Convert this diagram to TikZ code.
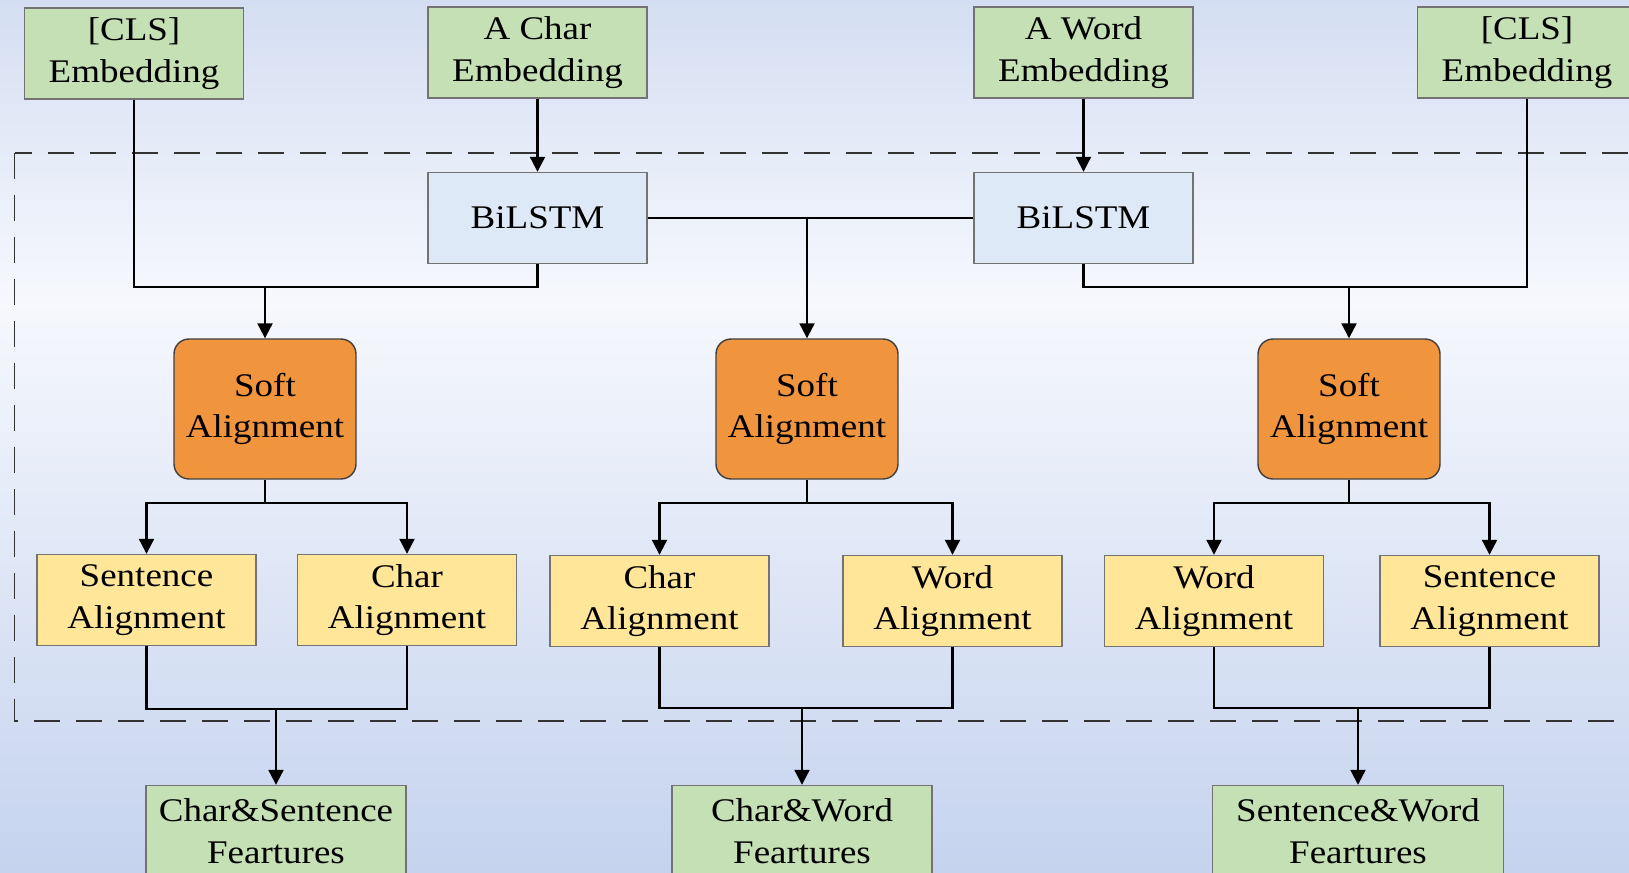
\documentclass[tikz,border=0pt]{standalone}
\usepackage{fontspec}
\setmainfont{Liberation Serif}[FakeStretch=1.12]
\usetikzlibrary{arrows.meta,positioning}
\definecolor{boxgreen}{RGB}{197,224,180}
\definecolor{boxblue}{RGB}{221,233,246}
\definecolor{boxorange}{RGB}{240,148,62}
\definecolor{boxyellow}{RGB}{255,230,153}
\definecolor{bgtop}{RGB}{212,222,242}
\definecolor{bgmid}{RGB}{246,248,253}
\definecolor{bgbot}{RGB}{197,211,238}
\pgfdeclareverticalshading{bgfade}{100bp}{color(0bp)=(bgbot); color(25bp)=(bgbot); color(57.8bp)=(bgmid); color(75bp)=(bgtop); color(100bp)=(bgtop)}
\tikzset{
  box/.style={draw=black!55, line width=0.8pt, minimum width=4.38cm, minimum height=1.82cm,
    inner sep=0pt, align=center, font=\fontsize{18.8}{23.6}\selectfont},
  embed/.style={box, fill=boxgreen},
  lstm/.style={box, fill=boxblue},
  soft/.style={box, fill=boxorange, draw=black!75, rounded corners=0.3cm,
    minimum width=3.64cm, minimum height=2.8cm},
  part/.style={box, fill=boxyellow},
  feat/.style={box, fill=boxgreen, minimum width=5.2cm},
  link/.style={line width=1.2pt},
  arr/.style={link, -{Triangle[length=8.5pt,width=8.5pt]}},
  dashline/.style={draw=black!80, line width=1.1pt, dash pattern=on 14.8pt off 9.1pt}
}
\begin{document}
\begin{tikzpicture}[x=0.02cm, y=-0.02cm]
\useasboundingbox (0,0) rectangle (1629,872);
\clip (0,0) rectangle (1629,872);
\shade[shading=bgfade] (0,0) rectangle (1629,872);
\draw[dashline] (14.5,153) rectangle (1660,721);

\node[embed] (clsL) at (134,53.5) {[CLS]\\Embedding};
\node[embed] (charEmb) at (537.5,52.5) {A Char\\Embedding};
\node[embed] (wordEmb) at (1083.5,52.5) {A Word\\Embedding};
\node[embed] (clsR) at (1527,52.5) {[CLS]\\Embedding};
\node[lstm] (lstmC) at (537.5,218) {BiLSTM};
\node[lstm] (lstmW) at (1083.5,218) {BiLSTM};
\node[soft] (softL) at (265,409) {Soft\\Alignment};
\node[soft] (softM) at (807,409) {Soft\\Alignment};
\node[soft] (softR) at (1349,409) {Soft\\Alignment};
\node[part] (sentL) at (146.5,600) {Sentence\\Alignment};
\node[part] (charL) at (407,600) {Char\\Alignment};
\node[part] (charM) at (659.5,601) {Char\\Alignment};
\node[part] (wordM) at (952.5,601) {Word\\Alignment};
\node[part] (wordR) at (1214,601) {Word\\Alignment};
\node[part] (sentR) at (1489.5,601) {Sentence\\Alignment};
\node[feat] (featCS) at (276,831) {Char\&Sentence\\Feartures};
\node[feat] (featCW) at (802,831) {Char\&Word\\Feartures};
\node[feat, minimum width=5.82cm] (featSW) at (1358,831) {Sentence\&Word\\Feartures};

\coordinate (mergeL) at (265,287);
\coordinate (mergeR) at (1349,287);
\draw[arr] (charEmb) -- (lstmC);
\draw[arr] (wordEmb) -- (lstmW);
\draw[link] (lstmC) -- (lstmW);
\draw[arr] (softM |- lstmC) -- (softM);
\draw[link] (clsL.south) |- (mergeL) -| (lstmC.south);
\draw[arr] (mergeL) -- (softL);
\draw[link] (lstmW.south) |- (mergeR) -| (clsR.south);
\draw[arr] (mergeR) -- (softR);

\foreach \s/\a/\b in {softL/sentL/charL, softM/charM/wordM, softR/wordR/sentR}{
  \draw[arr] (\s.south) -- ++(0,23) -| (\a.north);
  \draw[arr] (\s.south) -- ++(0,23) -| (\b.north);
}
\foreach \a/\b/\c/\y in {sentL/charL/featCS/709, charM/wordM/featCW/708, wordR/sentR/featSW/708}{
  \draw[link] (\a.south) |- (\c |- 0,\y) -| (\b.south);
  \draw[arr] (\c |- 0,\y) -- (\c);
}
\end{tikzpicture}
\end{document}
